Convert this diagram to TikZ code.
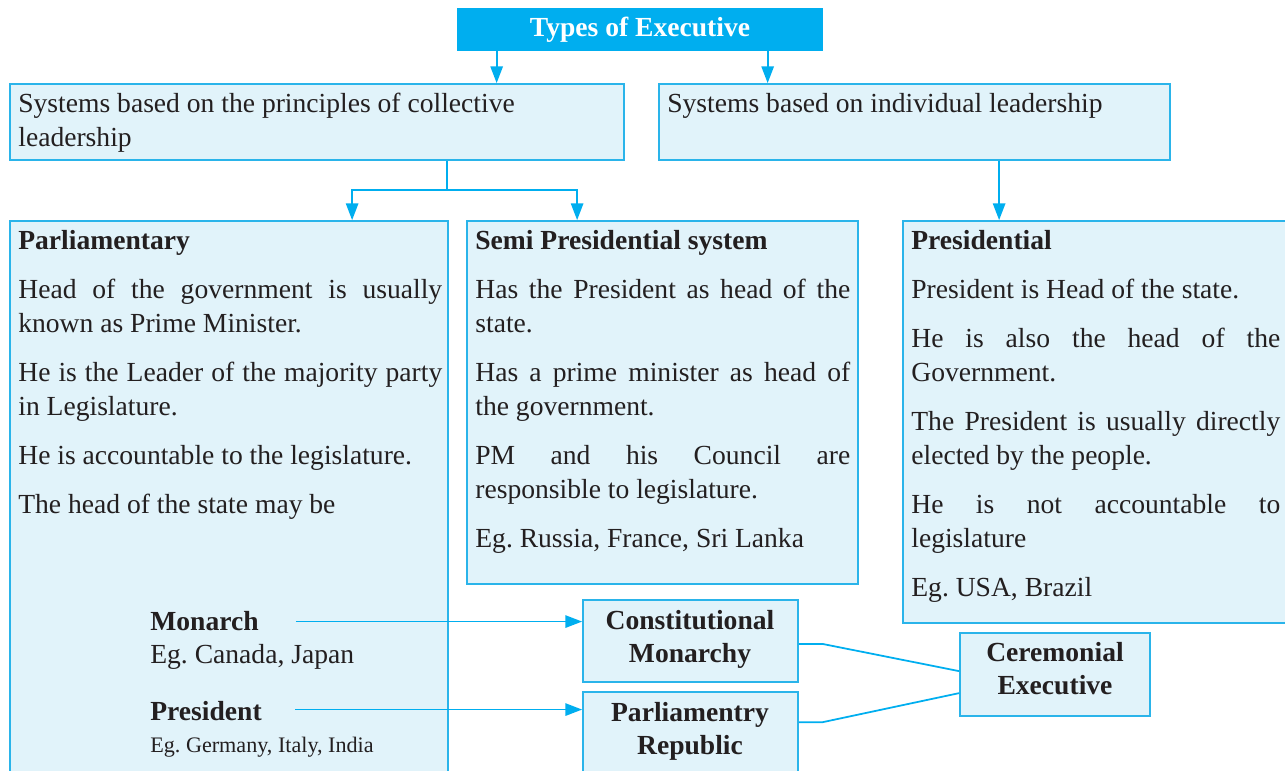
\documentclass[tikz,border=0pt]{standalone}
\usepackage{fontspec}
\setmainfont{Liberation Serif}
\usetikzlibrary{arrows.meta,fit,positioning}
\frenchspacing

\definecolor{cyanE}{HTML}{00AEEF}
\definecolor{bordE}{HTML}{2AB4EA}
\definecolor{fondE}{HTML}{E1F3FA}
\definecolor{texteE}{HTML}{231F20}

\tikzset{
  boite/.style={draw=bordE, fill=fondE, line width=1pt, inner sep=0pt},
  corps/.style={inner sep=0pt, anchor=base west, text=texteE,
    font=\fontsize{15.7}{19.4}\selectfont},
  para/.style={corps, align=justify,
    execute at begin node={\setlength{\parskip}{8.5pt}\hyphenpenalty=10000\tolerance=10000%
      \spaceskip=\fontdimen2\font plus 1.5\fontdimen3\font\relax}},
  titreboite/.style={corps, anchor=base, align=center, font=\bfseries\fontsize{15.7}{19}\selectfont},
  fleche/.style={draw=cyanE, line width=1pt, -{Triangle[width=7pt,length=9.5pt]}},
  trait/.style={draw=cyanE, line width=1pt},
}

\begin{document}
\begin{tikzpicture}[x=0.02cm, y=-0.02cm]
    \useasboundingbox (0,0) rectangle (1285,771);

    % Titre
    \node[fill=cyanE, inner sep=0pt, fit={(457,8) (823,51)}] (titre) {};
    \node[corps, anchor=base, text=white, font=\bfseries\fontsize{15.7}{18}\selectfont]
        (titreTxt) at (640,36) {Types of Executive};

    % Deux familles de systemes
    \node[boite, fit={(10,84) (624,160)}] (collectif) {};
    \node[corps, align=flush left, text width=11.2cm] (collectifTxt) at (18,112)
        {Systems based on the principles of collective leadership};
    \node[boite, fit={(659,84) (1170,160)}] (individuel) {};
    \node[corps] (individuelTxt) at (667,112) {Systems based on individual leadership};

    % Parlementaire
    \node[boite, fit={(10,221) (448,780)}] (parl) {};
    \node[para, text width=8.48cm] (parlTxt) at (18,249) {\textbf{Parliamentary}\par
        Head of the government is usually known as Prime Minister.\par
        He is the Leader of the majority party in Legislature.\par
        He is accountable to the legislature.\par
        The head of the state may be};

    % Semi presidentiel
    \node[boite, fit={(467,221) (858,584)}] (semi) {};
    \node[para, text width=7.5cm] (semiTxt) at (475,249) {\textbf{Semi Presidential system}\par
        Has the President as head of the state.\par
        Has a prime minister as head of the government.\par
        PM and his Council are responsible to legislature.\par
        Eg. Russia, France, Sri Lanka};

    % Presidentiel
    \node[boite, fit={(903,221) (1290,623)}] (pres) {};
    \node[para, text width=7.38cm] (presTxt) at (911,249) {\textbf{Presidential}\par
        President is Head of the state.\par
        He is also the head of the Government.\par
        The President is usually directly elected by the people.\par
        He is not accountable to legislature\par
        Eg. USA, Brazil};

    % Chef de l'Etat
    \node[corps, font=\bfseries\fontsize{15.7}{19}\selectfont] (monarque) at (150,630) {Monarch};
    \node[corps] (monarqueEg) at (150,663) {Eg. Canada, Japan};
    \node[corps, font=\bfseries\fontsize{15.7}{19}\selectfont] (president) at (150,720) {President};
    \node[corps, font=\fontsize{12.6}{15}\selectfont] (presidentEg) at (150,752) {Eg. Germany, Italy, India};

    % Executif ceremoniel
    \node[boite, fit={(583,600) (798,682)}] (constMon) {};
    \node[titreboite, text width=4cm] (constMonTxt) at (690,629) {Constitutional\\Monarchy};
    \node[boite, fit={(583,692) (798,780)}] (repParl) {};
    \node[titreboite, text width=4cm] (repParlTxt) at (690,721) {Parliamentry\\Republic};
    \node[boite, fit={(960,633) (1150,716)}] (ceremonial) {};
    \node[titreboite, text width=3.6cm] (ceremonialTxt) at (1055,661) {Ceremonial\\Executive};

    % Fleches du titre
    \coordinate (t1) at ([shift={(40,0)}]titre.south west);
    \coordinate (t2) at ([shift={(311,0)}]titre.south west);
    \draw[fleche] (t1) -- (t1 |- collectif.north);
    \draw[fleche] (t2) -- (t2 |- individuel.north);

    % Embranchement
    \coordinate (c1) at ([shift={(438,0)}]collectif.south west);
    \coordinate (noeud) at ([shift={(0,29)}]c1);
    \coordinate (p1) at ([shift={(343,0)}]parl.north west);
    \coordinate (s1) at ([shift={(111,0)}]semi.north west);
    \draw[trait] (c1) -- (noeud);
    \draw[fleche] (noeud) -| (p1);
    \draw[fleche] (noeud) -| (s1);
    \coordinate (i1) at ([shift={(341,0)}]individuel.south west);
    \draw[fleche] (i1) -- (i1 |- pres.north);

    % Monarque et president
    \coordinate (m1) at ([shift={(37,1)}]monarque.east);
    \draw[fleche] (m1) -- (m1 -| constMon.west);
    \coordinate (m2) at ([shift={(33,-1)}]president.east);
    \draw[fleche] (m2) -- (m2 -| repParl.west);

    % Liens vers l'executif ceremoniel
    \coordinate (cm1) at ([shift={(0,3)}]constMon.east);
    \coordinate (rp1) at ([shift={(0,31)}]repParl.north east);
    \coordinate (ce1) at ([shift={(0,39)}]ceremonial.north west);
    \coordinate (ce2) at ([shift={(0,61)}]ceremonial.north west);
    \draw[trait] (cm1) -- ++(24,0) -- (ce1);
    \draw[trait] (rp1) -- ++(24,0) -- (ce2);
\end{tikzpicture}
\end{document}
